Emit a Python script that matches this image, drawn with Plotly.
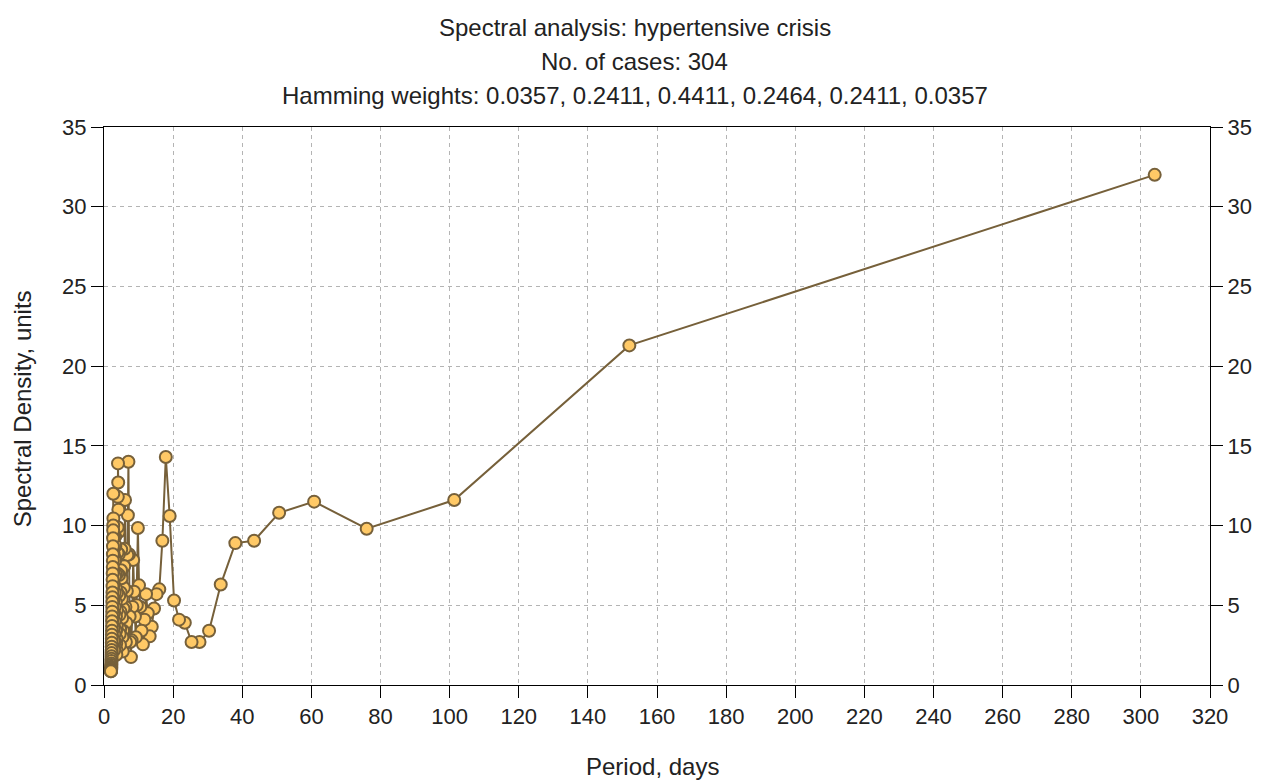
import plotly.graph_objects as go

N_CASES = 304
harmonics = list(range(1, 153))
periods = [N_CASES / k for k in harmonics]

density = [
    32.0, 21.3, 11.6, 9.8, 11.5, 10.8, 9.05, 8.9, 6.3, 3.4,
    2.7, 2.7, 3.9, 4.1, 5.3, 10.6, 14.3, 9.05, 6.0, 5.7,
    4.8, 3.65, 3.05, 4.5, 5.7, 4.1, 2.55, 3.4, 4.9, 6.25,
    9.85, 5.0, 3.0, 4.3, 5.85, 7.84, 4.9, 2.8, 1.75, 2.7,
    4.3, 8.2, 14.0, 10.65, 8.15, 5.9, 3.9, 2.7, 4.9, 11.6,
    8.55, 7.45, 6.1, 4.8, 3.4, 2.1, 3.0, 4.2, 5.4, 6.7,
    8.5, 7.2, 5.8, 4.6, 3.5, 2.5, 3.2, 4.4, 5.6, 6.9,
    8.2, 9.6, 11.0, 12.7, 13.9, 11.8, 9.9, 8.3, 7.0, 5.8,
    4.7, 3.7, 2.9, 2.2, 1.9, 2.6, 3.4, 4.3, 5.2, 6.1,
    7.0, 7.9, 8.7, 9.3, 8.8, 7.8, 6.8, 5.8, 4.9, 4.0,
    3.2, 2.6, 2.2, 2.8, 3.6, 4.5, 5.4, 6.3, 7.2, 8.2,
    9.3, 10.45, 12.0, 10.0, 9.7, 9.2, 8.7, 8.2, 7.8, 7.4,
    7.0, 6.6, 6.2, 5.8, 5.5, 5.2, 4.9, 4.6, 4.3, 4.0,
    3.7, 3.4, 3.15, 2.9, 2.65, 2.4, 2.2, 2.0, 1.8, 1.65,
    1.5, 1.35, 1.25, 1.15, 1.08, 1.02, 0.97, 0.93, 0.9, 0.88,
    0.87, 0.86,
]

title_lines = [
    "Spectral analysis: hypertensive crisis",
    "No. of cases: 304",
    "Hamming weights: 0.0357, 0.2411, 0.4411, 0.2464, 0.2411, 0.0357",
]
x_ticks = list(range(0, 321, 20))
y_ticks = list(range(0, 36, 5))

FONT = "Liberation Sans, Arial, sans-serif"
LINE_C = "#76603a"
FILL_C = "#ffc966"
TXT_C = "#222"

fig = go.Figure()
fig.add_trace(go.Scatter(
    x=periods, y=density, mode="lines+markers",
    line=dict(color=LINE_C, width=2),
    marker=dict(size=12, color=FILL_C, line=dict(color=LINE_C, width=2)),
    showlegend=False, hoverinfo="x+y",
))
# invisible trace for the right axis
fig.add_trace(go.Scatter(x=[0], y=[0], yaxis="y2", mode="markers",
                         marker=dict(opacity=0), showlegend=False, hoverinfo="skip"))

axis_common = dict(
    showline=True, linecolor="black", linewidth=1,
    ticks="outside", ticklen=12, tickcolor="black", tickwidth=1,
    tickfont=dict(family=FONT, size=22, color=TXT_C),
    zeroline=False,
)
grid = dict(showgrid=True, gridcolor="#b4b4b4", griddash="4px,4px", gridwidth=1)

fig.update_layout(
    width=1264, height=781,
    margin=dict(l=104, r=49, t=127, b=96),
    paper_bgcolor="white", plot_bgcolor="white",
    font=dict(family=FONT, size=22, color=TXT_C),
    xaxis=dict(range=[0, 320], tickvals=x_ticks, mirror=True, **grid, **axis_common),
    yaxis=dict(range=[0, 35], tickvals=y_ticks, **grid, **axis_common),
    yaxis2=dict(range=[0, 35], tickvals=y_ticks, overlaying="y", side="right",
                showgrid=False, **axis_common),
)

title_x = (637 - 104) / 1111
for text, py in zip(title_lines, [27, 62, 96]):
    fig.add_annotation(text=text, xref="paper", yref="paper", x=title_x,
                       y=(685 - py) / 558, xanchor="center", yanchor="middle",
                       showarrow=False, font=dict(family=FONT, size=24, color=TXT_C))

fig.add_annotation(text="Period, days", xref="paper", yref="paper",
                   x=(655 - 104) / 1111,
                   y=(685 - 766) / 558, xanchor="center", yanchor="middle",
                   showarrow=False, font=dict(family=FONT, size=24, color=TXT_C))
fig.add_annotation(text="Spectral Density, units", xref="paper", yref="paper",
                   x=(22 - 104) / 1111, y=(685 - 409) / 558, xanchor="center",
                   yanchor="middle", textangle=-90, showarrow=False,
                   font=dict(family=FONT, size=24, color=TXT_C))

fig.write_html("out.html")
